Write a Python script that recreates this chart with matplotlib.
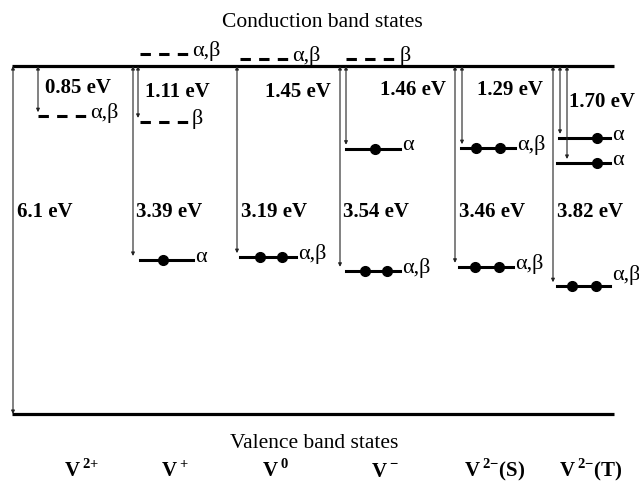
import matplotlib
matplotlib.use('Agg')
import matplotlib.pyplot as plt

plt.rcParams['font.family'] = ['Liberation Serif', 'DejaVu Serif']
plt.rcParams['mathtext.fontset'] = 'custom'
plt.rcParams['mathtext.rm'] = 'Liberation Serif'
plt.rcParams['mathtext.bf'] = 'Liberation Serif:bold'

# band gap (eV); defect levels are given as depth below the conduction band edge
band_gap = 6.1
state_labels = [r'$\mathbf{V}\,^{\mathbf{2}\mathbf{+}}$', r'$\mathbf{V}\,^{\mathbf{+}}$', r'$\mathbf{V}\,^{\mathbf{0}}$',
                r'$\mathbf{V}\,^{\mathbf{-}}$', r'$\mathbf{V}\,^{\mathbf{2}\mathbf{-}}\mathbf{(S)}$',
                r'$\mathbf{V}\,^{\mathbf{2}\mathbf{-}}\mathbf{(T)}$']
upper_gap_labels = ['0.85 eV', '1.11 eV', '1.45 eV', '1.46 eV', '1.29 eV', '1.70 eV']
lower_gap_labels = ['6.1 eV', '3.39 eV', '3.19 eV', '3.54 eV', '3.46 eV', '3.82 eV']

# depth below CB in eV (negative = above the CB edge), electrons drawn, spin channel
level_depth = [0.88, -0.21, 0.98, 3.40, -0.12, 3.35, -0.12, 1.45, 3.59, 1.44, 3.52, 1.26, 1.70, 3.86]
level_electrons = [0, 0, 0, 1, 0, 2, 0, 1, 2, 2, 2, 1, 1, 2]
level_spin = ['α,β', 'α,β', 'β', 'α', 'α,β', 'α,β', 'β', 'α', 'α,β', 'α,β', 'α,β', 'α', 'α', 'α,β']

# arrows: which level each transition arrow points to (None = valence band)
arrow_level = [None, 0, 3, 2, 5, 8, 7, 10, 9, 13, 11, 12]

# ---- layout (x in figure pixels) ----
level_x0 = [38, 140, 140, 140, 240, 240, 346, 346, 346, 461, 459, 559, 557, 557]
level_x1 = [88, 190, 190, 193, 290, 296, 398, 400, 400, 515, 513, 610, 610, 610]
dot_x = {3: [163], 5: [260, 282], 7: [375], 8: [365, 387], 9: [476, 500],
         10: [475, 499], 11: [597], 12: [597], 13: [572, 596]}
label_dy = [0.05] * len(level_depth)
label_dy[13] = 0.2
arrow_x = [13, 38, 133, 138, 237, 340, 346, 455, 462, 553, 560, 567]
upper_x = [45, 145, 265, 380, 477, 569]
upper_depth = [0.39, 0.46, 0.46, 0.42, 0.42, 0.63]
lower_x = [17, 136, 241, 343, 459, 557]
state_x = [82, 175, 276, 385, 495, 591]

fig = plt.figure(figsize=(6.39, 4.83), dpi=100)
ax = fig.add_axes([0, 0, 1, 1])
ax.set_xlim(0, 639)
ax.set_ylim(-1.209, 7.257)
ax.axis('off')

def energy(depth):
    return band_gap - depth

# band edges
ax.plot([12, 614], [band_gap, band_gap], color='black', lw=2.3, solid_capstyle='butt')
ax.plot([12, 614], [0, 0], color='black', lw=2.3, solid_capstyle='butt')

# transition arrows
for x, lev in zip(arrow_x, arrow_level):
    end = 0 if lev is None else energy(level_depth[lev]) + 0.07
    ax.annotate('', xy=(x, end), xytext=(x, band_gap),
                arrowprops=dict(arrowstyle='<|-|>', lw=0.8, color='#222222',
                                mutation_scale=5, shrinkA=0, shrinkB=0))

# defect levels
for i, d in enumerate(level_depth):
    e = energy(d)
    if level_electrons[i] == 0:
        ax.plot([level_x0[i], level_x1[i]], [e, e], color='black', lw=2.2,
                dashes=(3.4, 2.7), dash_capstyle='butt')
    else:
        ax.plot([level_x0[i], level_x1[i]], [e, e], color='black', lw=2.2)
        ax.plot(dot_x[i], [e] * len(dot_x[i]), 'o', color='black', ms=7)
    ax.text(level_x1[i] + 2, e + label_dy[i], level_spin[i], fontsize=16,
            ha='left', va='center')

# gap labels
for i in range(len(state_labels)):
    ax.text(upper_x[i], energy(upper_depth[i]), upper_gap_labels[i], fontsize=15,
            fontweight='bold', ha='left', va='center')
    ax.text(lower_x[i], energy(2.56), lower_gap_labels[i], fontsize=15,
            fontweight='bold', ha='left', va='center')
    ax.text(state_x[i], -1.10, state_labels[i], fontsize=15, ha='center', va='baseline')

ax.text(322, 6.78, 'Conduction band states', fontsize=15.5, ha='center', va='baseline')
ax.text(314, -0.59, 'Valence band states', fontsize=15.5, ha='center', va='baseline')

fig.savefig('out.png', dpi=100)
